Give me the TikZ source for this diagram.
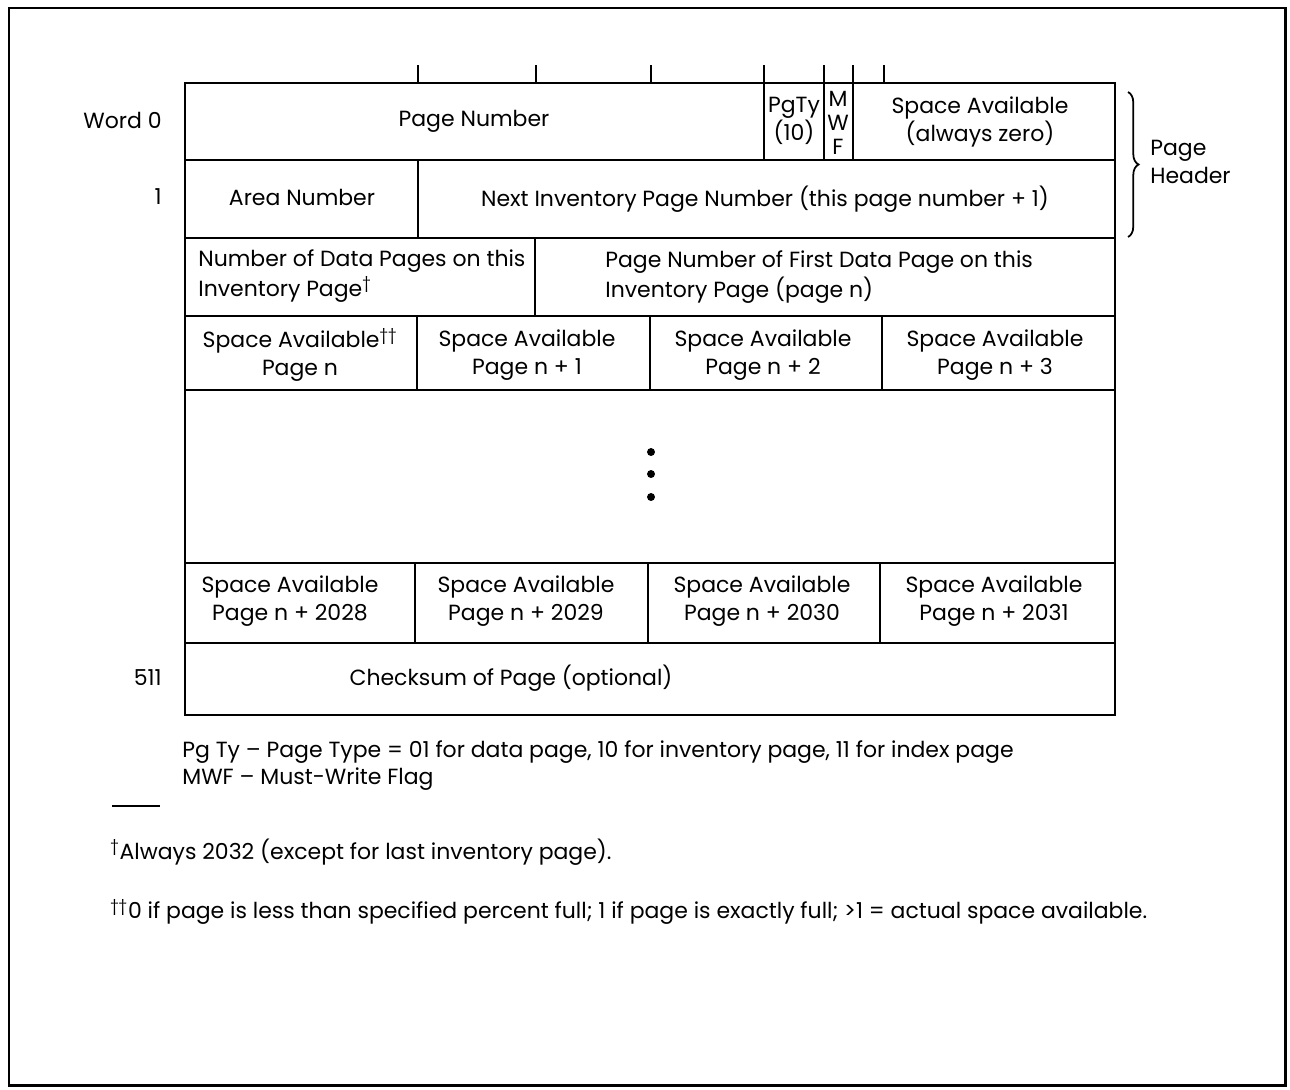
\documentclass[tikz,border=0pt]{standalone}
\usepackage{fontspec}
\setmainfont{Poppins}
\usetikzlibrary{decorations.pathreplacing}
\begin{document}
\begin{tikzpicture}[x=0.02cm, y=-0.02cm, font=\fontsize{12.5}{16}\selectfont,
  cell/.style={align=center, inner sep=0pt},
  lefttext/.style={align=left, anchor=west, inner sep=0pt},
  wordno/.style={anchor=east, inner sep=0pt},
  dotmark/.style={circle, fill, inner sep=1.6pt},
  grid/.style={line width=0.7pt}]
  \useasboundingbox (0,0) rectangle (1290,1089);
  \draw[line width=1.7pt] (9,8) rectangle (1285,1085);
  % word layout
  \draw[line width=1.1pt] (185,83) rectangle (1115,715);
  \draw[grid] (418,65) -- (418,83) (536,65) -- (536,83) (651,65) -- (651,83)
    (764,65) -- (764,83) (824,65) -- (824,83) (853,65) -- (853,83) (884,65) -- (884,83);
  \draw[grid] (185,160) -- (1115,160);
  \draw[grid] (764,83) -- (764,160) (824,83) -- (824,160) (853,83) -- (853,160);
  \draw[grid] (185,238) -- (1115,238);
  \draw[grid] (418,160) -- (418,238);
  \draw[grid] (185,316) -- (1115,316);
  \draw[grid] (535,238) -- (535,316);
  \draw[grid] (185,390) -- (1115,390);
  \draw[grid] (417,316) -- (417,390) (650,316) -- (650,390) (882,316) -- (882,390);
  \draw[grid] (185,563) -- (1115,563);
  \draw[grid] (415,563) -- (415,643) (648,563) -- (648,643) (880,563) -- (880,643);
  \draw[grid] (185,643) -- (1115,643);
  \node[cell] (pgnum) at (474,121) {Page Number};
  \node[cell] (pgty) at (794,121) {PgTy\\(10)};
  \node[cell, font=\fontsize{12.5}{13.6}\selectfont] (mwf) at (838,123) {M\\W\\F};
  \node[cell] (spzero) at (980,122) {Space Available\\(always zero)};
  \node[cell] (areanum) at (302,197) {Area Number};
  \node[cell] (nextinv) at (765,199) {Next Inventory Page Number (this page number + 1)};
  \node[lefttext, font=\fontsize{12.5}{17}\selectfont] (ndata) at (198,276) {Number of Data Pages on this\\Inventory Page\textsuperscript{†}};
  \node[lefttext, font=\fontsize{12.5}{17}\selectfont] (firstdata) at (605,277) {Page Number of First Data Page on this\\Inventory Page (page n)};
  \node[cell] (spa) at (300,355) {Space Available\textsuperscript{††}\\Page n};
  \node[cell] (spb) at (527,355) {Space Available\\Page n + 1};
  \node[cell] (spc) at (763,355) {Space Available\\Page n + 2};
  \node[cell] (spd) at (995,355) {Space Available\\Page n + 3};
  \node[dotmark] (dota) at (651,452) {};
  \node[dotmark] (dotb) at (651,474) {};
  \node[dotmark] (dotc) at (651,497) {};
  \node[cell] (spw) at (290,601) {Space Available\\Page n + 2028};
  \node[cell] (spx) at (526,601) {Space Available\\Page n + 2029};
  \node[cell] (spy) at (762,601) {Space Available\\Page n + 2030};
  \node[cell] (spz) at (994,601) {Space Available\\Page n + 2031};
  \node[cell] (chksum) at (511,678) {Checksum of Page (optional)};
  \node[wordno] (w0) at (162,120) {Word 0};
  \node[wordno] (w1) at (162,197) {1};
  \node[wordno] (w511) at (162,678) {511};
  \draw[decorate, decoration={brace, amplitude=6pt}, line width=1pt] (1128,92) -- (1128,237);
  \node[lefttext] (hdr) at (1150,162) {Page\\Header};
  % notes
  \node[lefttext] (pgtynote) at (182,752) {Pg Ty – Page Type = 01 for data page, 10 for inventory page, 11 for index page};
  \node[lefttext] (mwfnote) at (182,779) {MWF – Must-Write Flag};
  \draw[grid] (112,806) -- (160,806);
  \node[lefttext] (fn1) at (110,852) {\textsuperscript{†}Always 2032 (except for last inventory page).};
  \node[lefttext] (fn2) at (110,912) {\textsuperscript{††}0 if page is less than specified percent full; 1 if page is exactly full; >1 = actual space available.};
\end{tikzpicture}
\end{document}
